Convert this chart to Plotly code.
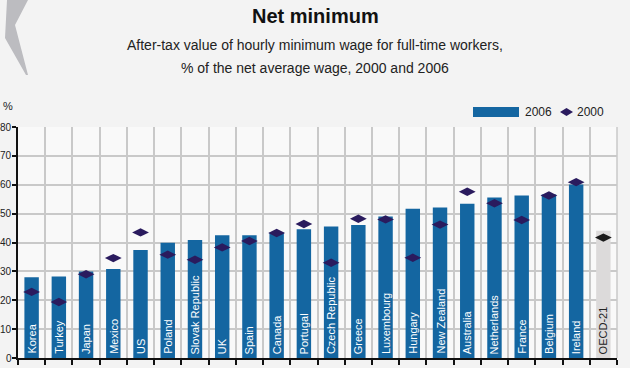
import plotly.graph_objects as go

countries = ["Korea", "Turkey", "Japan", "Mexico", "US", "Poland", "Slovak Republic", "UK",
             "Spain", "Canada", "Portugal", "Czech Republic", "Greece", "Luxembourg", "Hungary",
             "New Zealand", "Australia", "Netherlands", "France", "Belgium", "Ireland", "OECD-21"]
values_2006 = [28.0, 28.2, 30.0, 30.8, 37.4, 39.9, 40.9, 42.5, 42.5, 43.5, 44.6, 45.5, 46.1,
               49.0, 51.7, 52.1, 53.4, 55.6, 56.3, 56.6, 60.1, 44.1]
values_2000 = [22.9, 19.4, 29.0, 34.6, 43.5, 35.8, 34.0, 38.3, 40.5, 43.3, 46.4, 33.0, 48.2,
               48.0, 34.7, 46.2, 57.6, 53.6, 47.8, 56.3, 60.9, 41.7]
y_ticks = [0, 10, 20, 30, 40, 50, 60, 70, 80]
y_tick_labels = ["0", "10", "20", "30", "40", "50", "60", "70", "80"]
legend_labels = ["2006", "2000"]

FONT = "Liberation Sans, Arial, sans-serif"
BLUE = "#1466a1"
NAVY = "#2a1b5e"

bar_colors = [BLUE] * (len(countries) - 1) + ["#dcdada"]
text_colors = ["white"] * (len(countries) - 1) + ["#222222"]
dia_colors = [NAVY] * (len(countries) - 1) + ["#1a1a1a"]

W, H = 630, 368
ML, MR, MT, MB = 18, 13, 127, 10
PW, PH = W - ML - MR, H - MT - MB

def px(pix):
    return (pix - ML) / PW

def py(pix):
    return (H - MB - pix) / PH

fig = go.Figure()
fig.add_trace(go.Bar(
    x=countries, y=values_2006, name=legend_labels[0],
    marker=dict(color=bar_colors, line=dict(width=0)),
    showlegend=False,
))
fig.add_trace(go.Scatter(
    x=countries, y=values_2000, name=legend_labels[1], mode="markers",
    marker=dict(symbol="diamond-wide", size=12, color=dia_colors),
    showlegend=False,
))

for c, tc in zip(countries, text_colors):
    fig.add_annotation(x=c, y=0, xref="x", yref="y", text=c, textangle=-90, showarrow=False,
                       xanchor="center", yanchor="bottom", yshift=2,
                       font=dict(family=FONT, size=11, color=tc))

# y tick labels drawn as text next to the axis so they stay fully inside the page
for v, lab in zip(y_ticks, y_tick_labels):
    fig.add_annotation(x=px(13.5), y=v, xref="paper", yref="y", text=lab, showarrow=False,
                       xanchor="right", yanchor="middle",
                       font=dict(family=FONT, size=10, color="#222222"))

fig.update_layout(
    width=W, height=H,
    margin=dict(l=ML, r=MR, t=MT, b=MB),
    paper_bgcolor="#f3f3f3", plot_bgcolor="#f9f9f9",
    bargap=0.47,
    font=dict(family=FONT, color="#222222"),
    showlegend=False,
    xaxis=dict(type="category", range=[-0.5, len(countries) - 0.5], showticklabels=False,
               tickson="boundaries", ticks="outside",
               ticklen=5, tickwidth=2, tickcolor="#111111", showgrid=True, gridcolor="#c9c9c9",
               gridwidth=1.5, showline=True, linecolor="#111111", linewidth=2,
               automargin=False),
    yaxis=dict(range=[0, 80], tickvals=y_ticks, ticks="outside", ticklen=4, tickwidth=2,
               tickcolor="#111111", showgrid=True, gridcolor="#c9c9c9", gridwidth=1.5,
               showline=True, linecolor="#111111", linewidth=2, zeroline=False,
               showticklabels=False, automargin=False),
)

fig.add_annotation(text="<b>Net minimum</b>", x=px(315), y=py(16), xref="paper", yref="paper",
                   xanchor="center", yanchor="middle", showarrow=False,
                   font=dict(size=20, family=FONT, color="#111111"))
fig.add_annotation(text="After-tax value of hourly minimum wage for full-time workers,",
                   x=px(315), y=py(45), xref="paper", yref="paper", showarrow=False,
                   xanchor="center", yanchor="middle",
                   font=dict(size=14, family=FONT, color="#222222"))
fig.add_annotation(text="% of the net average wage, 2000 and 2006",
                   x=px(315), y=py(68), xref="paper", yref="paper", showarrow=False,
                   xanchor="center", yanchor="middle",
                   font=dict(size=14, family=FONT, color="#222222"))
fig.add_annotation(text="%", x=px(0.5), y=py(106), xref="paper", yref="paper", showarrow=False,
                   xanchor="left", yanchor="middle",
                   font=dict(size=11, family=FONT, color="#222222"))
# legend labels
fig.add_annotation(text=legend_labels[0], x=px(523), y=py(112), xref="paper", yref="paper",
                   showarrow=False, xanchor="left", yanchor="middle",
                   font=dict(size=12, family=FONT, color="#222222"))
fig.add_annotation(text=legend_labels[1], x=px(575), y=py(112), xref="paper", yref="paper",
                   showarrow=False, xanchor="left", yanchor="middle",
                   font=dict(size=12, family=FONT, color="#222222"))

fig.update_layout(shapes=[
    dict(type="line", xref="paper", yref="paper", x0=1, x1=1, y0=0, y1=1,
         line=dict(color="#c9c9c9", width=1.5)),
    dict(type="path", xref="paper", yref="paper",
         path=f"M {px(7)} {py(0)} L {px(28)} {py(0)} L {px(15)} {py(25)} L {px(28)} {py(75)} "
              f"L {px(26)} {py(75)} L {px(5)} {py(38)} Z",
         fillcolor="#bcbcc0", line=dict(width=0), layer="below"),
    # legend swatches
    dict(type="rect", xref="paper", yref="paper", x0=px(473), x1=px(519), y0=py(117), y1=py(107),
         fillcolor=BLUE, line=dict(width=0)),
    dict(type="path", xref="paper", yref="paper",
         path=f"M {px(560)} {py(112)} L {px(566.5)} {py(108)} L {px(573)} {py(112)} "
              f"L {px(566.5)} {py(116)} Z",
         fillcolor=NAVY, line=dict(width=0)),
])

fig.write_html(
    "out.html",
    config={"displayModeBar": False},
    post_script="document.body.style.margin='0';document.body.style.overflow='hidden';"
                "document.body.style.background='#f3f3f3';",
)
